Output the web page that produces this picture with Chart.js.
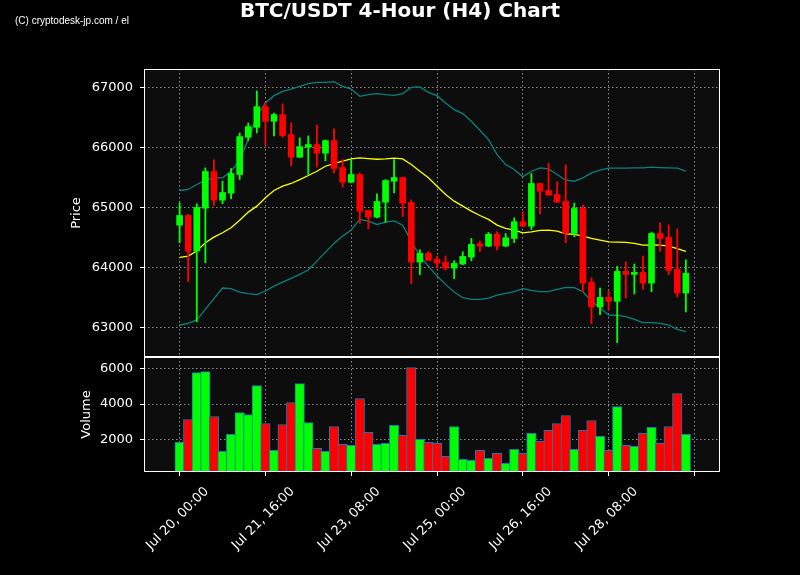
<!DOCTYPE html>
<html>
<head>
<meta charset="utf-8">
<script src="https://cdn.jsdelivr.net/npm/chart.js@4.4.0/dist/chart.umd.min.js"></script>
<style>
html,body{margin:0;padding:0;background:#000;overflow:hidden}
canvas{display:block}
</style>
</head>
<body>
<canvas id="c" width="800" height="575"></canvas>
<script>
// ---------------- data ----------------
const titleText = 'BTC/USDT 4-Hour (H4) Chart';
const watermarkText = '(C) cryptodesk-jp.com / el';
const xTickPositions = [0, 10, 20, 30, 40, 50, 60];
const xTickLabels = ['Jul 20, 00:00', 'Jul 21, 16:00', 'Jul 23, 08:00', 'Jul 25, 00:00', 'Jul 26, 16:00', 'Jul 28, 08:00', ''];
const priceTicks = [63000, 64000, 65000, 66000, 67000];
const volumeTicks = [2000, 4000, 6000];

const opens  = [64711,64872,64278,64994,65606,65128,65244,65556,66178,66344,66689,66444,66556,66222,65844,66011,66056,65911,66122,65672,
                65428,65556,64956,64844,65094,65444,65506,65089,64094,64239,64139,64089,63994,64061,64178,64400,64361,64561,64361,64489,
                64767,64694,65406,65289,65222,65106,64572,64989,63756,63344,63506,63439,63939,63889,63922,63744,64572,64506,63972,63578];
const highs  = [65083,64890,65067,65667,65800,65444,65656,66250,66417,66950,66761,66583,66733,66417,66167,66200,66383,66133,66317,65806,
                65806,65583,64960,65233,65472,65806,65510,65133,64300,64272,64194,64194,64117,64267,64489,64444,64589,64600,64572,64833,
                64933,65572,65410,65744,65433,65717,65078,65044,63833,63661,63611,64022,64100,64061,64194,64589,64750,64717,64650,64133];
const lows   = [64417,63767,63100,64083,65039,65067,65150,65472,66122,66250,66044,66200,66178,65700,65844,65556,65683,65783,65583,65344,
                65417,64739,64650,64833,64761,65250,64856,63733,63883,64122,63994,63961,63817,64050,64117,64267,64350,64294,64350,64417,
                64694,64639,64900,65211,65094,64417,64517,63600,63067,63217,63294,62750,63494,63561,63644,63600,64272,63883,63511,63261];
const closes = [64872,64278,65006,65606,65128,65256,65572,66189,66356,66689,66444,66556,66206,65844,66022,66056,65911,66122,65656,65428,
                65556,64944,64844,65106,65456,65506,65078,64094,64239,64122,64078,63994,64072,64189,64389,64361,64561,64361,64500,64767,
                64694,65406,65278,65211,65094,64572,64989,63744,63344,63506,63439,63939,63889,63922,63744,64572,64489,63956,63578,63906];
const volumes = [1831,3127,5775,5831,3296,1324,2282,3521,3409,5042,2901,1380,2845,4085,5155,2958,1493,1324,2732,1718,
                 1662,4310,2394,1718,1775,2789,2225,6056,2000,1831,1775,1042,2732,873,817,1380,930,1211,648,1437,
                 1211,2338,1887,2507,2901,3352,1437,2507,3070,2169,1380,3859,1662,1606,2338,2676,1775,2732,4592,2282];
const sma20 = [64172,64194,64278,64417,64511,64583,64667,64794,64928,65028,65167,65289,65361,65406,65472,65539,65611,65694,65739,65778,
               65817,65833,65822,65811,65817,65828,65817,65722,65611,65500,65361,65222,65111,65028,64944,64872,64806,64711,64656,64628,
               64583,64600,64622,64628,64611,64567,64556,64528,64489,64461,64433,64428,64422,64406,64378,64383,64378,64361,64317,64272];
const bbUpper = [65289,65306,65389,65461,65500,65500,65611,65794,66139,66528,66750,66872,66944,66983,67028,67072,67094,67094,67106,67028,
                 66983,66861,66889,66906,66889,66878,66906,67011,67017,66928,66872,66750,66639,66572,66444,66294,66139,65889,65722,65639,
                 65517,65611,65667,65650,65556,65461,65444,65500,65583,65628,65661,65661,65661,65667,65667,65678,65672,65667,65661,65611];
const bbLower = [63044,63072,63128,63306,63483,63661,63650,63594,63567,63550,63611,63694,63761,63822,63889,63961,64111,64261,64406,64528,
                 64628,64806,64778,64722,64761,64783,64711,64444,64194,64028,63861,63722,63594,63500,63472,63472,63494,63544,63572,63600,
                 63650,63622,63600,63600,63639,63672,63667,63600,63444,63333,63211,63206,63183,63139,63083,63083,63072,63044,62972,62933];

// ---------------- styles ----------------
const FONT = 'DejaVu Sans';
const UP = '#00ff00', DOWN = '#ff0000';
const GRID = 'rgba(165,165,165,0.85)';

const idx = opens.map((_, i) => i);
const colors = idx.map(i => closes[i] >= opens[i] ? UP : DOWN);
const pts = arr => idx.map(i => ({x: i, y: arr[i]}));

const framePlugin = {
  id: 'frame',
  beforeDraw(chart) {
    const {ctx, chartArea: a} = chart;
    ctx.save();
    ctx.fillStyle = '#000';
    ctx.fillRect(0, 0, chart.width, chart.height);
    ctx.fillStyle = '#0d0d0d';
    ctx.fillRect(a.left, a.top, a.right - a.left, a.bottom - a.top);
    ctx.restore();
  },
  afterDraw(chart) {
    const {ctx, chartArea: a, scales} = chart;
    ctx.save();
    ctx.strokeStyle = '#fff';
    ctx.lineWidth = 1;
    const L = Math.round(a.left) + 0.5, R = Math.round(a.right) - 0.5;
    [scales.y, scales.yv].forEach(s => {
      const T = Math.round(s.top) + 0.5, B = Math.round(s.bottom) - 0.5;
      ctx.strokeRect(L, T, R - L, B - T);
    });
    ctx.fillStyle = '#fff';
    ctx.textAlign = 'center';
    ctx.textBaseline = 'middle';
    ctx.font = 'bold 20px "DejaVu Sans"';
    ctx.fillText(titleText, 400, 12);
    ctx.textAlign = 'left';
    ctx.font = '10px "Liberation Sans Narrow", "Liberation Sans", sans-serif';
    ctx.fillText(watermarkText, 15, 21);
    ctx.restore();
  }
};

const tickFont = {family: FONT, size: 13};
const gridOpts = {color: GRID, lineWidth: 1, offset: false, drawTicks: true, tickLength: 4, tickColor: '#fff', tickWidth: 1, tickBorderDash: []};

new Chart(document.getElementById('c'), {
  type: 'bar',
  data: {
    datasets: [
      {type: 'bar', label: 'Volume', yAxisID: 'yv', data: pts(volumes), backgroundColor: colors,
       borderColor: '#1f77b4', borderWidth: 1, borderSkipped: 'start', barThickness: 9.5, grouped: false, order: 4},
      {type: 'line', label: 'Upper', yAxisID: 'y', data: pts(bbUpper), borderColor: '#0a8080', borderWidth: 1.3,
       pointRadius: 0, tension: 0, fill: false, order: 3},
      {type: 'line', label: 'Lower', yAxisID: 'y', data: pts(bbLower), borderColor: '#0a8080', borderWidth: 1.3,
       pointRadius: 0, tension: 0, fill: false, order: 3},
      {type: 'line', label: 'SMA20', yAxisID: 'y', data: pts(sma20), borderColor: '#ffff00', borderWidth: 1.3,
       pointRadius: 0, tension: 0, fill: false, order: 2},
      {type: 'bar', label: 'Wick', yAxisID: 'y', data: idx.map(i => ({x: i, y: [lows[i], highs[i]]})),
       backgroundColor: colors, barThickness: 1.2, grouped: false, order: 1},
      {type: 'bar', label: 'Body', yAxisID: 'y', data: idx.map(i => ({x: i, y: [opens[i], closes[i]]})),
       backgroundColor: colors, barThickness: 6, minBarLength: 1, grouped: false, order: 0}
    ]
  },
  options: {
    responsive: false,
    animation: false,
    devicePixelRatio: 1,
    layout: {padding: {left: 0, right: 80, top: 69, bottom: 0}},
    plugins: {legend: {display: false}, tooltip: {enabled: false}, title: {display: false}},
    scales: {
      x: {
        type: 'linear', min: -4.15, max: 62.98, offset: false,
        afterBuildTicks: s => { s.ticks = xTickPositions.map(v => ({value: v})); },
        afterFit: s => { s.height = 103; },
        ticks: {
          autoSkip: false, maxRotation: 45, minRotation: 45, color: '#fff', font: tickFont,
          padding: 8, labelOffset: 27,
          callback: v => { const k = xTickPositions.indexOf(v); return k >= 0 ? xTickLabels[k] : ''; }
        },
        grid: gridOpts,
        border: {display: false, dash: [1.5, 2.5]}
      },
      yv: {
        type: 'linear', position: 'left', stack: 'panels', stackWeight: 115, offset: false,
        min: 160, max: 6655,
        afterBuildTicks: s => { s.ticks = volumeTicks.map(v => ({value: v})); },
        afterFit: s => { s.width = 144; },
        ticks: {color: '#fff', font: tickFont, padding: 7, callback: v => String(v)},
        grid: gridOpts,
        border: {display: false, dash: [1.5, 2.5]},
        title: {display: true, text: 'Volume', color: '#fff', font: tickFont, padding: {top: 78.7, bottom: 0}}
      },
      y: {
        type: 'linear', position: 'left', stack: 'panels', stackWeight: 288, offset: false,
        min: 62510, max: 67317,
        afterBuildTicks: s => { s.ticks = priceTicks.map(v => ({value: v})); },
        afterFit: s => { s.width = 144; },
        ticks: {color: '#fff', font: tickFont, padding: 7, callback: v => String(v)},
        grid: gridOpts,
        border: {display: false, dash: [1.5, 2.5]},
        title: {display: true, text: 'Price', color: '#fff', font: tickFont, padding: {top: 69.2, bottom: 0}}
      }
    }
  },
  plugins: [framePlugin]
});
</script>
</body>
</html>
